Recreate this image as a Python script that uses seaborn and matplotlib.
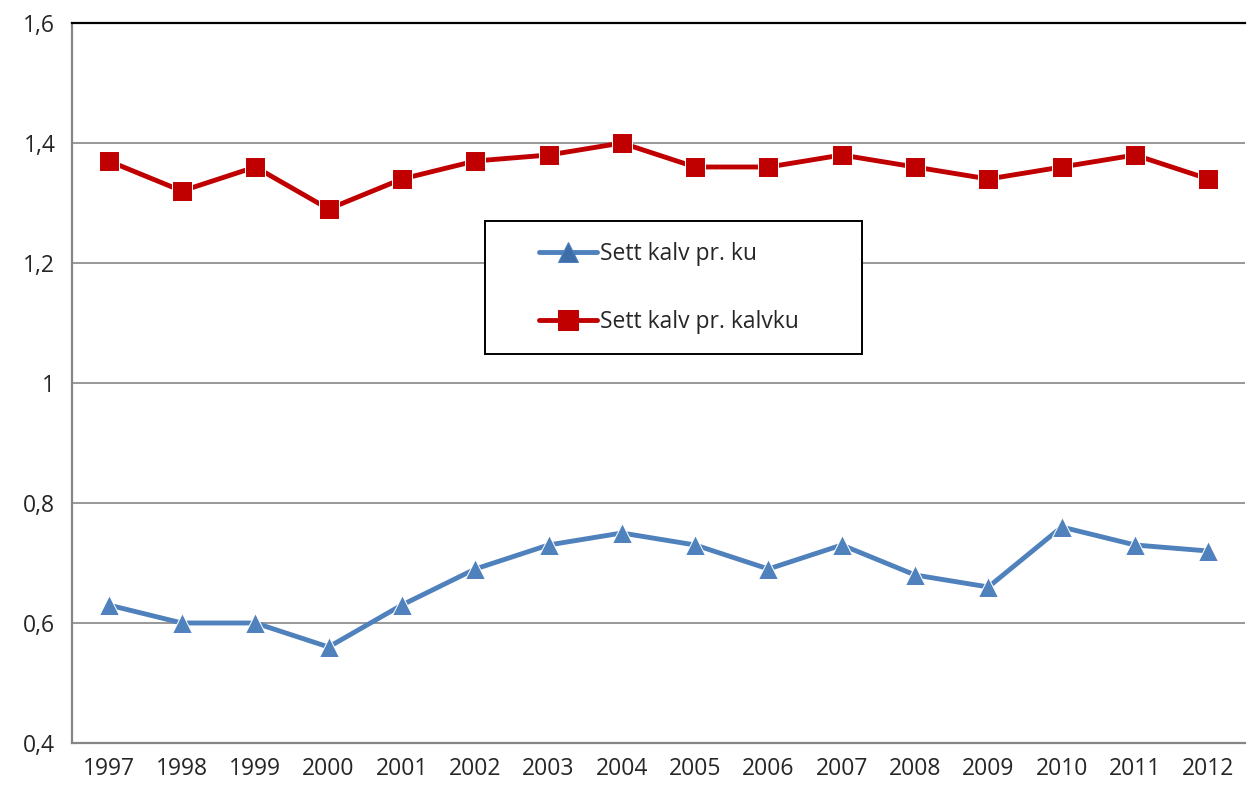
import matplotlib
matplotlib.use("Agg")
import matplotlib.pyplot as plt
import seaborn as sns
import pandas as pd
from matplotlib.ticker import FixedLocator, FuncFormatter
from matplotlib.patches import Rectangle

years = list(range(1997, 2013))
kalv_pr_ku = [0.63, 0.60, 0.60, 0.56, 0.63, 0.69, 0.73, 0.75, 0.73, 0.69, 0.73, 0.68, 0.66, 0.76, 0.73, 0.72]
kalv_pr_kalvku = [1.37, 1.32, 1.36, 1.29, 1.34, 1.37, 1.38, 1.40, 1.36, 1.36, 1.38, 1.36, 1.34, 1.36, 1.38, 1.34]
series_names = ["Sett kalv pr. ku", "Sett kalv pr. kalvku"]
y_ticks = [0.4, 0.6, 0.8, 1.0, 1.2, 1.4, 1.6]

sns.set_style("white")
plt.rcParams['font.family'] = ['Open Sans', 'DejaVu Sans']

df = pd.DataFrame({
    "year": years * 2,
    "value": kalv_pr_ku + kalv_pr_kalvku,
    "series": [series_names[0]] * len(years) + [series_names[1]] * len(years),
})

fig = plt.figure(figsize=(12.47, 7.89), dpi=100)
ax = fig.add_axes([72/1247, 1 - 743/789, (1245 - 72)/1247, (743 - 23)/789])

palette = {series_names[0]: "#4F81BD", series_names[1]: "#C00000"}
sns.lineplot(data=df, x="year", y="value", hue="series", style="series",
             markers={series_names[0]: "^", series_names[1]: "s"}, dashes=False,
             palette=palette, linewidth=3.5, markersize=14, ax=ax, legend=True)

def style_line(line):
    lbl = line.get_label()
    if lbl == series_names[0]:
        line.set_markerfacecolor("#3E6DAA")
        line.set_markeredgecolor("#4F81BD")
    elif lbl == series_names[1]:
        line.set_markerfacecolor("#C00000")
        line.set_markeredgecolor("#C00000")

for line in ax.get_lines():
    style_line(line)

ax.set_xlim(1996.5, 2012.5)
ax.set_ylim(0.4, 1.6)
ax.set_yticks(y_ticks)
ax.yaxis.set_major_formatter(FuncFormatter(lambda v, p: ("%g" % round(v, 2)).replace(".", ",")))
ax.set_xticks(years)
ax.set_xticklabels([str(y) for y in years])
ax.xaxis.set_minor_locator(FixedLocator([y + 0.5 for y in range(1996, 2013)]))
ax.tick_params(axis="x", which="major", length=0, pad=10, labelsize=16.5)
ax.tick_params(axis="x", which="minor", length=6, width=1.2, color="#868686", direction="out")
ax.tick_params(axis="y", which="major", length=6, width=1.2, color="#868686", direction="out", labelsize=16.5, pad=6)
ax.set_xlabel("")
ax.set_ylabel("")

ax.grid(axis="y", color="#868686", linewidth=1.2)
ax.set_axisbelow(True)
for s in ["left", "bottom"]:
    ax.spines[s].set_color("#868686")
    ax.spines[s].set_linewidth(1.6)
ax.spines["right"].set_visible(False)
ax.spines["top"].set_color("black")
ax.spines["top"].set_linewidth(1.6)

# legend box
box = Rectangle((0.352, 0.540), 0.3215, 0.185, transform=ax.transAxes,
                facecolor="white", edgecolor="black", linewidth=1.4, zorder=5)
ax.add_patch(box)

handles, labels = ax.get_legend_handles_labels()
leg = ax.legend(handles, labels, loc="center left", bbox_to_anchor=(0.3985, 0.632),
                frameon=False, fontsize=16.5, handlelength=2.5, labelspacing=1.95,
                borderpad=0, handletextpad=0.15, borderaxespad=0)
leg.set_zorder(6)
for h in leg.legend_handles:
    style_line(h)

fig.savefig("out.png", dpi=100)
